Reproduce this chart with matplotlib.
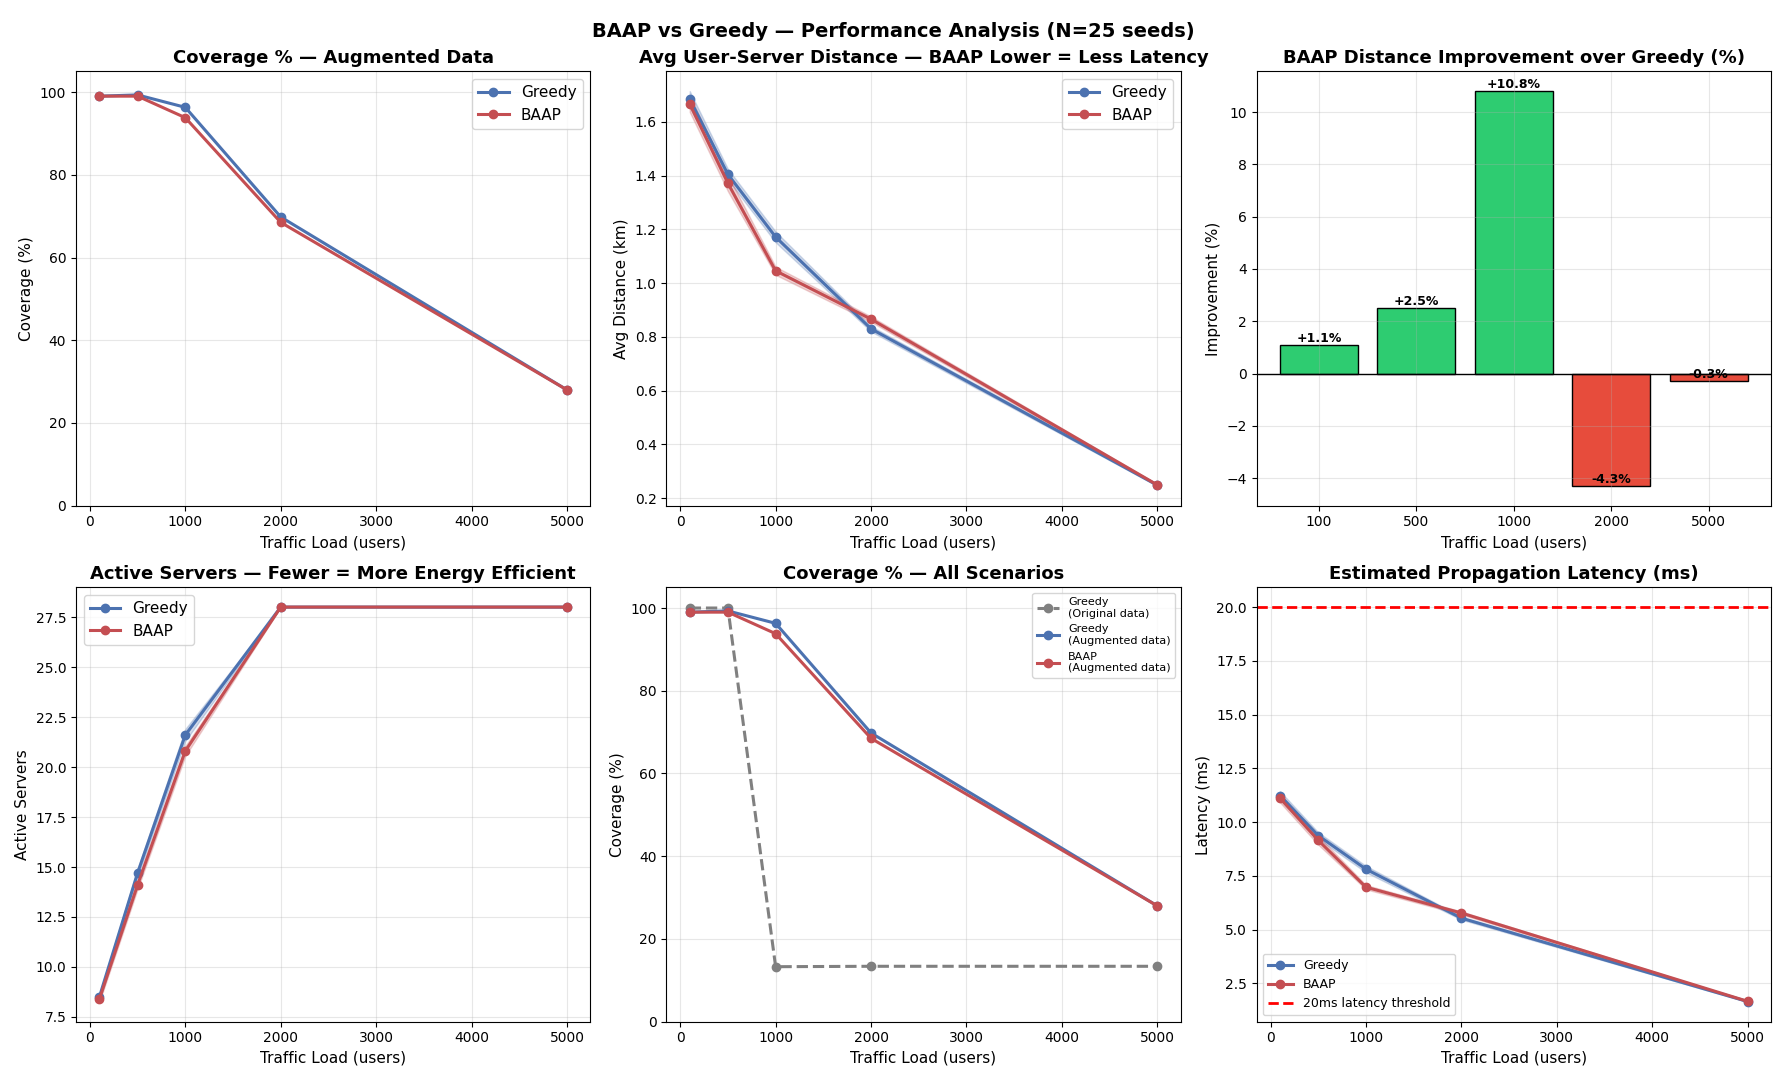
import matplotlib.pyplot as plt
import numpy as np

loads = [100, 500, 1000, 2000, 5000]
load_labels = ['100', '500', '1000', '2000', '5000']

cov_greedy = [99.0, 99.3, 96.3, 69.8, 28.0]
cov_baap = [99.0, 99.0, 93.8, 68.5, 28.0]
cov_greedy_orig = [100.0, 100.0, 13.3, 13.4, 13.4]

dist_greedy = [1.685, 1.405, 1.172, 0.830, 0.248]
dist_greedy_sd = [0.03, 0.02, 0.02, 0.01, 0.003]
dist_baap = [1.667, 1.372, 1.046, 0.866, 0.249]
dist_baap_sd = [0.03, 0.03, 0.015, 0.01, 0.003]

improvement = [1.1, 2.5, 10.8, -4.3, -0.3]

srv_greedy = [8.5, 14.7, 21.6, 28.0, 28.0]
srv_greedy_sd = [0.15, 0.2, 0.3, 0.0, 0.0]
srv_baap = [8.4, 14.1, 20.8, 28.0, 28.0]
srv_baap_sd = [0.15, 0.2, 0.25, 0.0, 0.0]

lat_greedy = [11.23, 9.37, 7.81, 5.53, 1.65]
lat_greedy_sd = [0.2, 0.15, 0.15, 0.07, 0.02]
lat_baap = [11.11, 9.15, 6.97, 5.77, 1.66]
lat_baap_sd = [0.2, 0.2, 0.1, 0.07, 0.02]

CG = '#4C72B0'
CB = '#C44E52'

fig, axes = plt.subplots(2, 3, figsize=(17.86, 10.81), dpi=100)
fig.suptitle('BAAP vs Greedy — Performance Analysis (N=25 seeds)', fontsize=14, fontweight='bold')


def band(ax, y, sd, c):
    y = np.array(y); sd = np.array(sd)
    ax.fill_between(loads, y - sd, y + sd, color=c, alpha=0.25)


# coverage augmented
ax = axes[0, 0]
ax.plot(loads, cov_greedy, 'o-', color=CG, lw=2.2, label='Greedy')
ax.plot(loads, cov_baap, 'o-', color=CB, lw=2.2, label='BAAP')
ax.set_ylim(0, 105)
ax.set_title('Coverage % — Augmented Data', fontsize=13, fontweight='bold')
ax.set_xlabel('Traffic Load (users)', fontsize=11)
ax.set_ylabel('Coverage (%)', fontsize=11)
ax.legend(fontsize=11)
ax.grid(alpha=0.3)

# distance
ax = axes[0, 1]
band(ax, dist_greedy, dist_greedy_sd, CG)
band(ax, dist_baap, dist_baap_sd, CB)
ax.plot(loads, dist_greedy, 'o-', color=CG, lw=2.2, label='Greedy')
ax.plot(loads, dist_baap, 'o-', color=CB, lw=2.2, label='BAAP')
ax.set_title('Avg User-Server Distance — BAAP Lower = Less Latency', fontsize=13, fontweight='bold')
ax.set_xlabel('Traffic Load (users)', fontsize=11)
ax.set_ylabel('Avg Distance (km)', fontsize=11)
ax.legend(fontsize=11)
ax.grid(alpha=0.3)

# improvement bars
ax = axes[0, 2]
x = np.arange(len(improvement))
cols = ['#2ecc71' if v >= 0 else '#e74c3c' for v in improvement]
ax.bar(x, improvement, color=cols, edgecolor='black', width=0.8)
for xi, v in zip(x, improvement):
    ax.text(xi, v, f'{v:+.1f}%', ha='center', va='bottom', fontsize=9, fontweight='bold')
ax.axhline(0, color='black', lw=1)
ax.set_xticks(x)
ax.set_xticklabels(load_labels)
ax.set_title('BAAP Distance Improvement over Greedy (%)', fontsize=13, fontweight='bold')
ax.set_xlabel('Traffic Load (users)', fontsize=11)
ax.set_ylabel('Improvement (%)', fontsize=11)
ax.grid(alpha=0.3)

# servers
ax = axes[1, 0]
band(ax, srv_greedy, srv_greedy_sd, CG)
band(ax, srv_baap, srv_baap_sd, CB)
ax.plot(loads, srv_greedy, 'o-', color=CG, lw=2.2, label='Greedy')
ax.plot(loads, srv_baap, 'o-', color=CB, lw=2.2, label='BAAP')
ax.set_title('Active Servers — Fewer = More Energy Efficient', fontsize=13, fontweight='bold')
ax.set_xlabel('Traffic Load (users)', fontsize=11)
ax.set_ylabel('Active Servers', fontsize=11)
ax.legend(fontsize=11, loc='upper left')
ax.grid(alpha=0.3)

# coverage all
ax = axes[1, 1]
ax.plot(loads, cov_greedy_orig, 'o--', color='gray', lw=2.2, label='Greedy\n(Original data)')
ax.plot(loads, cov_greedy, 'o-', color=CG, lw=2.2, label='Greedy\n(Augmented data)')
ax.plot(loads, cov_baap, 'o-', color=CB, lw=2.2, label='BAAP\n(Augmented data)')
ax.set_ylim(0, 105)
ax.set_title('Coverage % — All Scenarios', fontsize=13, fontweight='bold')
ax.set_xlabel('Traffic Load (users)', fontsize=11)
ax.set_ylabel('Coverage (%)', fontsize=11)
ax.legend(fontsize=8)
ax.grid(alpha=0.3)

# latency
ax = axes[1, 2]
band(ax, lat_greedy, lat_greedy_sd, CG)
band(ax, lat_baap, lat_baap_sd, CB)
ax.plot(loads, lat_greedy, 'o-', color=CG, lw=2.2, label='Greedy')
ax.plot(loads, lat_baap, 'o-', color=CB, lw=2.2, label='BAAP')
ax.axhline(20, color='red', ls='--', lw=2, label='20ms latency threshold')
ax.set_title('Estimated Propagation Latency (ms)', fontsize=13, fontweight='bold')
ax.set_xlabel('Traffic Load (users)', fontsize=11)
ax.set_ylabel('Latency (ms)', fontsize=11)
ax.legend(fontsize=9, loc='lower left')
ax.grid(alpha=0.3)

fig.tight_layout()
fig.savefig('out.png')
